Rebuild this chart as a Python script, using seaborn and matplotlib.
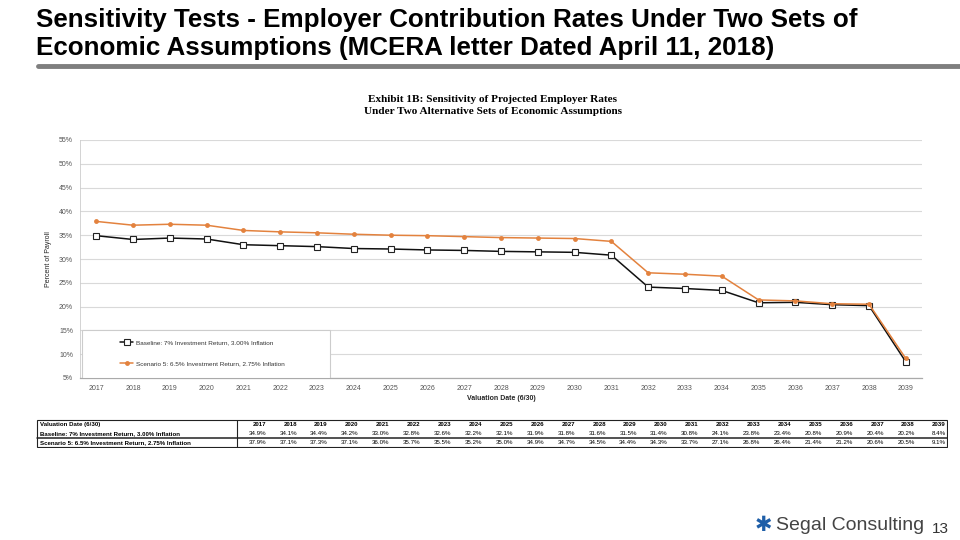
import pandas as pd
import matplotlib
matplotlib.use('Agg')
import matplotlib.pyplot as plt
import seaborn as sns

# Дані з таблиці (Exhibit 1B)
years = list(range(2017, 2040))
baseline = [34.9, 34.1, 34.4, 34.2, 33.0, 32.8, 32.6, 32.2, 32.1, 31.9, 31.8, 31.6,
            31.5, 31.4, 30.8, 24.1, 23.8, 23.4, 20.8, 20.9, 20.4, 20.2, 8.4]
scenario = [37.9, 37.1, 37.3, 37.1, 36.0, 35.7, 35.5, 35.2, 35.0, 34.9, 34.7, 34.5,
            34.4, 34.3, 33.7, 27.1, 26.8, 26.4, 21.4, 21.2, 20.6, 20.5, 9.1]
label_base = 'Baseline: 7% Investment Return, 3.00% Inflation'
label_scen = 'Scenario 5: 6.5% Investment Return, 2.75% Inflation'
y_ticks = [5, 10, 15, 20, 25, 30, 35, 40, 45, 50, 55]

df = pd.DataFrame({
    'year': years * 2,
    'rate': baseline + scenario,
    'series': [label_base] * len(years) + [label_scen] * len(years),
})

sns.set_style('white')
plt.rcParams['font.family'] = ['Liberation Sans', 'DejaVu Sans']
plt.rcParams['text.color'] = 'black'

fig = plt.figure(figsize=(9.6, 5.4), dpi=100)

# Заголовок слайда
fig.text(36 / 960, 1 - 20 / 540, 'Sensitivity Tests - Employer Contribution Rates Under Two Sets of',
         fontsize=18.7, fontweight='bold', va='center', ha='left', color='black')
fig.text(36 / 960, 1 - 48 / 540, 'Economic Assumptions (MCERA letter Dated April 11, 2018)',
         fontsize=18.7, fontweight='bold', va='center', ha='left', color='black')
fig.add_artist(plt.Line2D([38 / 960, 1.0], [1 - 66 / 540] * 2, color='#7f7f7f', lw=3.5))

# Назва графіка
fig.text(493 / 960, 1 - 99 / 540, 'Exhibit 1B: Sensitivity of Projected Employer Rates',
         fontsize=8.1, fontweight='bold', family='Liberation Serif', ha='center', va='center')
fig.text(493 / 960, 1 - 112 / 540, 'Under Two Alternative Sets of Economic Assumptions',
         fontsize=8.1, fontweight='bold', family='Liberation Serif', ha='center', va='center')

ax = fig.add_axes([80 / 960, 1 - 378 / 540, 842 / 960, 238 / 540])
sns.lineplot(data=df, x='year', y='rate', hue='series', style='series',
             palette={label_base: '#111111', label_scen: '#e3823e'},
             markers={label_base: 's', label_scen: 'o'},
             dashes={label_base: '', label_scen: ''},
             linewidth=1.1, ax=ax)
for line in ax.lines:
    if line.get_marker() == 's':
        line.set_markerfacecolor('white')
        line.set_markeredgecolor('#222222')
        line.set_markersize(5)
        line.set_markeredgewidth(0.8)
    elif line.get_marker() == 'o':
        line.set_markersize(3.5)
        line.set_markeredgewidth(0)

ax.set_xlim(years[0] - 0.44, years[-1] + 0.44)
ax.set_ylim(y_ticks[0], y_ticks[-1])
ax.set_xticks(years)
ax.set_xticklabels([str(y) for y in years], fontsize=5, color='#555555')
ax.set_yticks(y_ticks)
ax.set_yticklabels([f'{t}%' for t in y_ticks], fontsize=5, color='#555555')
ax.tick_params(length=0, pad=5)
ax.yaxis.grid(True, color='#d9d9d9', lw=0.8)
for s in ['top', 'right']:
    ax.spines[s].set_visible(False)
ax.spines['left'].set_color('#cccccc')
ax.spines['left'].set_linewidth(0.6)
ax.spines['bottom'].set_color('#aaaaaa')
ax.spines['bottom'].set_linewidth(0.9)
ax.set_xlabel('Valuation Date (6/30)', fontsize=5, fontweight='bold', labelpad=2)
ax.set_ylabel('Percent of Payroll', fontsize=5, labelpad=5, color='#222222')

# Легенда у рамці
ax.add_patch(plt.Rectangle((0.002, 0.0), 0.295, 0.2, transform=ax.transAxes,
                           facecolor='white', edgecolor='#cccccc', lw=0.8, zorder=3))
leg = ax.legend(loc='center left', bbox_to_anchor=(0.045, 0.105), fontsize=4.6,
                frameon=False, labelspacing=2.4, handlelength=2.0, handletextpad=0.4,
                borderaxespad=0)
leg.set_zorder(4)
for t in leg.get_texts():
    t.set_color('#333333')

# Таблиця під графіком
tab = fig.add_axes([36 / 960, 1 - 448 / 540, 912 / 960, 29 / 540])
tab.set_xlim(36, 948)
tab.set_ylim(448, 419)
tab.axis('off')
tab.add_patch(plt.Rectangle((37, 420), 910, 27, fill=False, lw=0.8, color='#222222'))
tab.plot([237, 237], [420, 447], color='#222222', lw=0.8)
tab.plot([37, 947], [438.2, 438.2], color='#222222', lw=1.1)
row_y = [424.5, 433.3, 442.6]
row_lab = ['Valuation Date (6/30)', label_base, label_scen]
for yy, lab in zip(row_y, row_lab):
    tab.text(40, yy, lab, fontsize=4.4, fontweight='bold', va='center', ha='left')
col_x = [266 + 30.9 * i for i in range(len(years))]
for cx, yr, b, s in zip(col_x, years, baseline, scenario):
    tab.text(cx, row_y[0], str(yr), fontsize=4.4, fontweight='bold', va='center', ha='right')
    tab.text(cx, row_y[1], f'{b:.1f}%', fontsize=4.4, va='center', ha='right')
    tab.text(cx, row_y[2], f'{s:.1f}%', fontsize=4.4, va='center', ha='right')

# Логотип і номер слайда
fig.text(763 / 960, 1 - 525 / 540, '\u2731', fontsize=15, color='#1f5fa8',
         family='DejaVu Sans', ha='center', va='center')
fig.text(776 / 960, 1 - 526 / 540, 'Segal Consulting', fontsize=14, color='#444444',
         ha='left', va='center')
fig.text(940 / 960, 1 - 529 / 540, '13', fontsize=11, color='#333333', ha='center', va='center')

fig.savefig('out.png', dpi=100)
